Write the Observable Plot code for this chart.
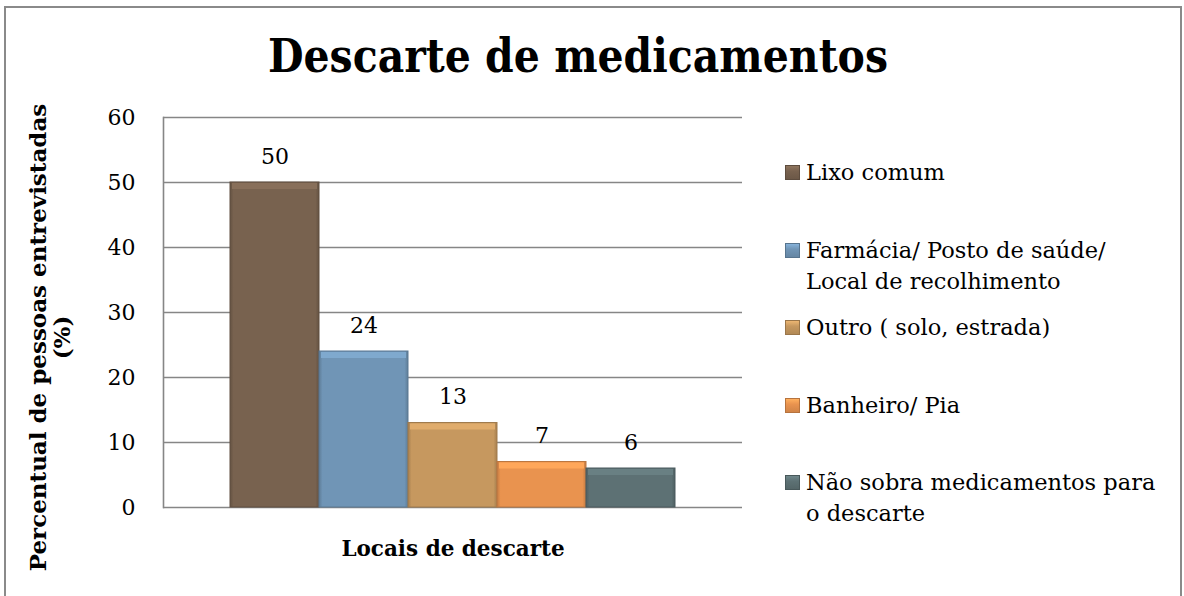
<!DOCTYPE html>
<html>
<head>
<meta charset="utf-8">
<script src="https://cdn.jsdelivr.net/npm/d3@7"></script>
<script src="https://cdn.jsdelivr.net/npm/@observablehq/plot@0.6"></script>
<style>
html, body { margin: 0; padding: 0; background: #fff; }
#wrap { position: relative; width: 1184px; height: 596px; overflow: hidden; font-family: "DejaVu Serif", serif; }
#border { position: absolute; left: 4px; top: 6px; width: 1178px; height: 640px; border: 2px solid #8a8a8a; box-sizing: border-box; }
#title { position: absolute; left: -14px; width: 1184px; top: 31px; text-align: center; font: bold 41px "DejaVu Serif", serif; color: #000; line-height: 50px; transform: scaleY(1.13); }
#chart { position: absolute; left: 0; top: 0; }
#legend { position: absolute; left: 785px; top: 157px; font: 22.5px "DejaVu Serif", serif; color: #000; }
.item { height: 77.5px; position: relative; padding-left: 21px; line-height: 31px; white-space: nowrap; }
.sw { position: absolute; left: 0; top: 8px; width: 15px; height: 15px; box-sizing: border-box; }
svg [aria-label="x-axis label"] text { font-weight: bold; }
</style>
</head>
<body>
<div id="wrap">
  <div id="border"></div>
  <div id="chart"></div>
  <div id="title">Descarte de medicamentos</div>
  <div id="legend"></div>
</div>
<script>
const categories = [
  "Lixo comum",
  "Farmácia/ Posto de saúde/ Local de recolhimento",
  "Outro ( solo, estrada)",
  "Banheiro/ Pia",
  "Não sobra medicamentos para o descarte"
];
const legendLines = [
  ["Lixo comum"],
  ["Farmácia/ Posto de saúde/", "Local de recolhimento"],
  ["Outro ( solo, estrada)"],
  ["Banheiro/ Pia"],
  ["Não sobra medicamentos para", "o descarte"]
];
const values = [50, 24, 13, 7, 6];
const baseColors = ["#78624f", "#7095b6", "#c6985f", "#e9934f", "#5d7174"];
const yTicks = [0, 10, 20, 30, 40, 50, 60];
const yLabel = "Percentual de pessoas entrevistadas\n(%)";
const xLabel = "Locais de descarte";

const data = categories.map((c, i) => ({cat: c, v: values[i], fill: `url(#grad${i})`, color: baseColors[i]}));

const plot = Plot.plot({
  width: 1184,
  height: 596,
  marginLeft: 163,
  marginRight: 442,
  marginTop: 117,
  marginBottom: 89,
  style: {fontFamily: "DejaVu Serif, serif", fontSize: "22px", color: "#000", background: "transparent", overflow: "visible"},
  x: {domain: categories, paddingInner: 0, paddingOuter: 0.735, axis: null},
  y: {domain: [0, 60], ticks: yTicks},
  color: {type: "identity"},
  marks: [
    Plot.gridY(yTicks, {stroke: "#868686", strokeOpacity: 1, strokeWidth: 1.6}),
    Plot.frame({anchor: "left", stroke: "#868686", strokeWidth: 1.6}),
    Plot.axisY(yTicks, {tickSize: 0, tickPadding: 28, fontSize: 22, label: null}),
    Plot.text([yLabel], {
      frameAnchor: "left", text: d => d, rotate: -90, dx: -113, dy: 25,
      fontSize: 23, fontWeight: "bold", lineHeight: 1.05, lineAnchor: "middle", textAnchor: "middle"
    }),
    Plot.axisX({ticks: [], tickSize: 0, label: xLabel, labelAnchor: "center", labelArrow: "none", labelOffset: 48, fontSize: 21.5}),
    Plot.barY(data, {x: "cat", y: "v", fill: "fill", stroke: d => d3.color(d.color).darker(0.6).formatHex(), strokeWidth: 1}),
    Plot.tickY(data, {x: "cat", y: "v", stroke: d => d3.color(d.color).brighter(0.35).formatHex(), strokeWidth: 6, dy: 3.5, insetLeft: 2, insetRight: 2}),
    Plot.text(data, {x: "cat", y: "v", text: d => String(d.v), dy: -26, fontSize: 22})
  ]
});

// gradients for the beveled bars
const svg = d3.select(plot);
const defs = svg.insert("defs", ":first-child");
baseColors.forEach((c, i) => {
  const base = d3.color(c);
  const g = defs.append("linearGradient").attr("id", `grad${i}`).attr("x1", 0).attr("y1", 0).attr("x2", 1).attr("y2", 0);
  g.append("stop").attr("offset", "0").attr("stop-color", base.darker(0.5).formatHex());
  g.append("stop").attr("offset", "0.04").attr("stop-color", base.formatHex());
  g.append("stop").attr("offset", "0.96").attr("stop-color", base.formatHex());
  g.append("stop").attr("offset", "1").attr("stop-color", base.darker(0.5).formatHex());
});
document.getElementById("chart").appendChild(plot);

// legend
const legend = d3.select("#legend");
legendLines.forEach((lines, i) => {
  const it = legend.append("div").attr("class", "item");
  const c = d3.color(baseColors[i]);
  it.append("div").attr("class", "sw")
    .style("background", `linear-gradient(180deg, ${c.brighter(0.5).formatHex()} 0%, ${c.formatHex()} 40%, ${c.darker(0.3).formatHex()} 100%)`)
    .style("border", `1px solid ${c.darker(0.7).formatHex()}`);
  it.append("div").html(lines.join("<br>"));
});
</script>
</body>
</html>
